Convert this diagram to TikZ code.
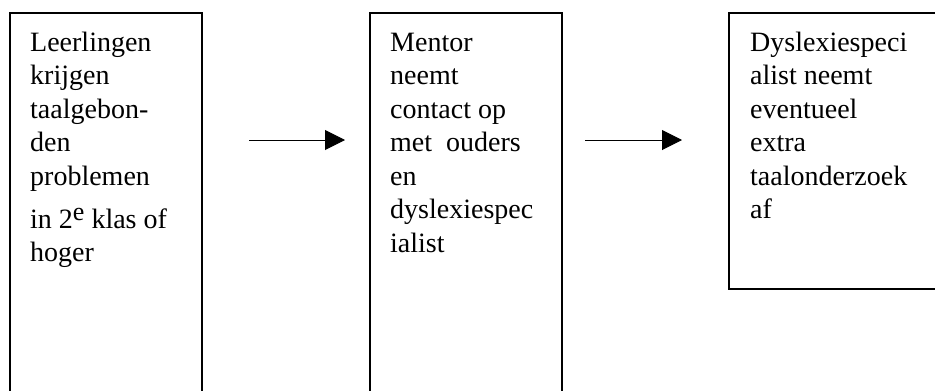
\documentclass[tikz,border=0pt]{standalone}
\usepackage{fontspec}
\setmainfont{Liberation Serif}
\usetikzlibrary{arrows.meta}

\begin{document}
\begin{tikzpicture}[x=1pt,y=-1pt]

	\tikzstyle{kader} = [draw,line width=1.6pt]
	\tikzstyle{tekst} = [anchor=north west,inner sep=0pt,align=left,font=\fontsize{28}{33.5}\selectfont]
	\tikzstyle{pijl} = [line width=1pt,-{Triangle[length=20pt,width=20pt]}]

	\useasboundingbox (0,0) rectangle (935,391);

	% drie kaders
	\draw[kader] (10,13) rectangle (202,400);
	\draw[kader] (370,13) rectangle (562,400);
	\draw[kader] (729,13) rectangle (950,289);

	\node[tekst] (leerlingen) at (30,27.5) {\strut Leerlingen\\krijgen\\taalgebon-\\den\\problemen\\[9.5pt]in 2\smash{\raisebox{7.5pt}{\fontsize{26}{26}\selectfont e}} klas of\\hoger};

	\node[tekst] (mentor) at (390,27.5) {\strut Mentor\\neemt\\contact op\\met\ \ ouders\\en\\dyslexiespec\\ialist};

	\node[tekst] (specialist) at (750,27.5) {\strut Dyslexiespeci\\alist neemt\\eventueel\\extra\\taalonderzoek\\af};

	\coordinate (pijl1a) at (249,140);
	\coordinate (pijl1b) at (345,140);
	\draw[pijl] (pijl1a) -- (pijl1b);

	\coordinate (pijl2a) at (585,140);
	\coordinate (pijl2b) at (682,140);
	\draw[pijl] (pijl2a) -- (pijl2b);

\end{tikzpicture}
\end{document}
